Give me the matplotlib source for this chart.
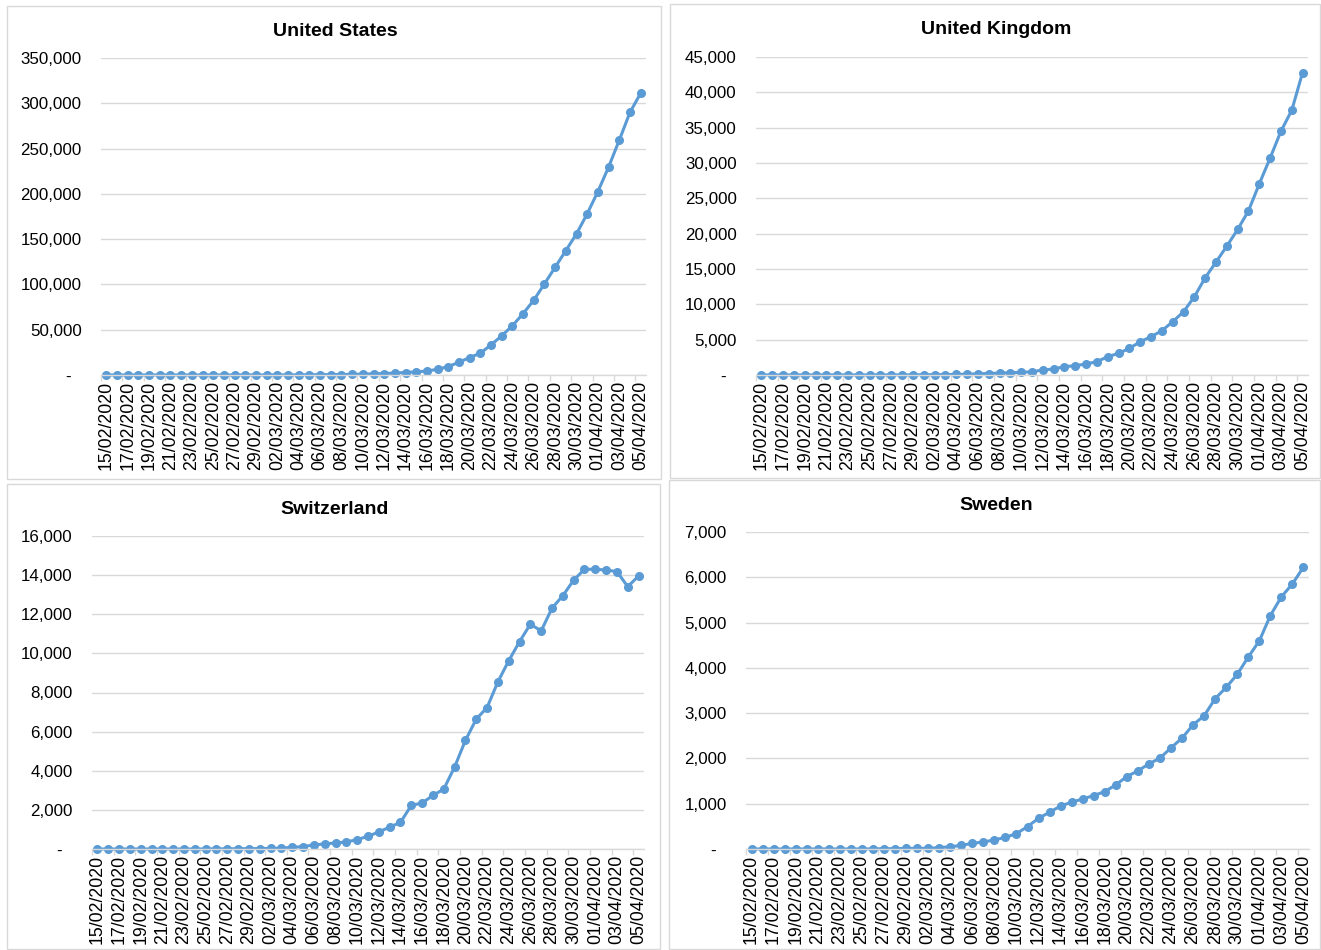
import numpy as np
import pandas as pd
import matplotlib
matplotlib.use('Agg')
import matplotlib.pyplot as plt
from matplotlib.patches import Rectangle
from matplotlib.ticker import FuncFormatter, MultipleLocator, FixedLocator

plt.rcParams['font.family'] = ['Liberation Sans', 'DejaVu Sans']

dates = pd.date_range('2020-02-15', '2020-04-05').strftime('%d/%m/%Y').tolist()

us = [15, 15, 15, 15, 15, 15, 35, 35, 35, 53, 53, 59, 60, 62, 68,
      75, 100, 124, 158, 221, 319, 435, 541, 704, 994,
      1301, 1630, 2183, 2726, 3499, 4400, 6300, 9300, 14100, 19300,
      24100, 33300, 43300, 54400, 67800, 82600, 100700, 119000, 137400, 155900,
      178100,
      202600, 229600, 259300, 290000, 311100]
uk = [9, 9, 9, 9, 9, 9, 9, 13, 13, 13, 13, 13, 15, 16, 20,
      35, 40, 50, 85, 115, 165, 205, 275, 320, 375,
      460, 710, 850, 1180, 1320, 1560, 1890, 2590, 3060, 3770,
      4710, 5420, 6270, 7540, 8950, 11075, 13760, 15980, 18240, 20590,
      23230,
      27050, 30700, 34500, 37460, 42800]
ch = [0, 0, 0, 0, 0, 0, 0, 0, 0, 1, 1, 8, 8, 15, 18,
      24, 30, 40, 90, 120, 210, 260, 310, 360, 480,
      650, 870, 1120, 1360, 2230, 2350, 2740, 3060, 4190, 5550,
      6640, 7230, 8545, 9620, 10600, 11490, 11150, 12310, 12950, 13740,
      14300,
      14300, 14260, 14180, 13410, 13960]
se = [1, 1, 1, 1, 1, 1, 1, 1, 1, 1, 1, 2, 7, 7, 12,
      14, 15, 30, 50, 80, 125, 155, 200, 258, 340,
      494, 678, 811, 951, 1032, 1106, 1180, 1268, 1416, 1600,
      1726, 1880, 2006, 2235, 2448, 2743, 2942, 3320, 3570, 3857,
      4240,
      4595, 5155, 5570, 5855, 6225]

W, H = 1321, 950
fig = plt.figure(figsize=(W / 100, H / 100), dpi=100)

# (title, data, ymax, step, plot area px, panel box px)
panels = [
    ('United States', us, 350000, 50000, (101, 58, 646, 375), (7, 6, 661, 479)),
    ('United Kingdom', uk, 45000, 5000, (756, 57, 1308, 375), (670, 4, 1320, 478)),
    ('Switzerland', ch, 16000, 2000, (92, 536, 644, 849), (7, 484, 660, 949)),
    ('Sweden', se, 7000, 1000, (746, 532, 1309, 849), (669, 480, 1320, 949)),
]

grid_c = '#d9d9d9'
line_c = '#5b9bd5'


def fmt(v, pos):
    if v == 0:
        return '-  '
    return f'{v:,.0f}'


for title, vals, ymax, step, (x0, y0, x1, y1), (bx0, by0, bx1, by1) in panels:
    fig.patches.append(Rectangle((bx0 / W, 1 - by1 / H), (bx1 - bx0) / W, (by1 - by0) / H,
                                 transform=fig.transFigure, fill=False,
                                 edgecolor=grid_c, linewidth=1))
    fig.text((bx0 + bx1) / 2 / W + 1.5 / W, 1 - (by0 + 25) / H, title, ha='center', va='center',
             fontsize=14, fontweight='bold', color='black')

    ax = fig.add_axes([x0 / W, 1 - y1 / H, (x1 - x0) / W, (y1 - y0) / H])
    x = np.arange(len(vals))
    ax.plot(x, vals, color=line_c, linewidth=2.2, marker='o', markersize=5.5, clip_on=False)

    ax.set_xlim(-0.5, len(vals) - 0.5)
    ax.set_ylim(0, ymax)
    ax.yaxis.set_major_locator(MultipleLocator(step))
    ax.yaxis.set_major_formatter(FuncFormatter(fmt))
    ax.grid(axis='y', color=grid_c, linewidth=1)
    ax.set_axisbelow(True)

    ax.set_xticks(x[::2])
    ax.set_xticklabels(dates[::2], rotation=90)
    ax.xaxis.set_minor_locator(FixedLocator(np.arange(-0.5, len(vals), 2)))
    ax.tick_params(axis='x', which='major', length=0, pad=4, labelsize=12.8, colors='black')
    ax.tick_params(axis='x', which='minor', length=4, color=grid_c, width=1)
    ax.tick_params(axis='y', length=0, pad=14, labelsize=12.2, colors='black')

    for s in ['top', 'right', 'left']:
        ax.spines[s].set_visible(False)
    ax.spines['bottom'].set_color(grid_c)
    ax.spines['bottom'].set_linewidth(1)

fig.savefig('out.png', dpi=100, facecolor='white')
